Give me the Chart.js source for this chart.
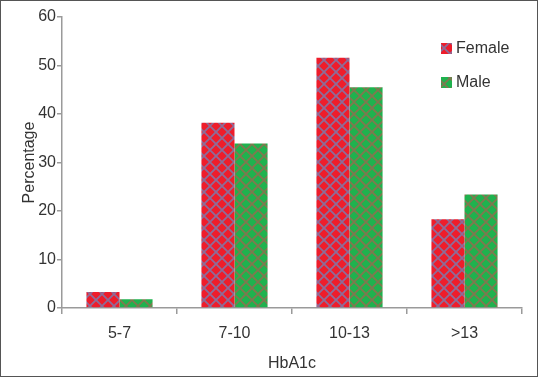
<!DOCTYPE html>
<html lang="en">
<head>
    <meta charset="UTF-8">
    <title>HbA1c by sex</title>
    <script src="https://cdn.jsdelivr.net/npm/chart.js@4.4.1/dist/chart.umd.min.js"></script>
    <style>
        body {
            margin: 0;
            background: #fff;
        }

        .frame {
            width: 538px;
            height: 377px;
            box-sizing: border-box;
            border: 1px solid #555;
            position: relative;
        }

        canvas {
            position: absolute;
            left: -1px;
            top: -1px;
        }
    </style>
</head>
<body>
    <div class="frame">
        <canvas id="barChart" width="538" height="377"></canvas>
    </div>
    <script>
        // values
        const categories = ["5-7", "7-10", "10-13", ">13"];
        const femaleValues = [3.3, 38.2, 51.6, 18.3];
        const maleValues = [1.8, 33.9, 45.5, 23.4];
        const seriesNames = ["Female", "Male"];
        const yMax = 60;
        const yStep = 10;

        // cross-hatch fill like the original
        function hatch(fill, line) {
            const n = 12;
            const c = document.createElement("canvas");
            c.width = n;
            c.height = n;
            const g = c.getContext("2d");
            g.fillStyle = fill;
            g.fillRect(0, 0, n, n);
            g.strokeStyle = line;
            g.lineWidth = 1.8;
            g.beginPath();
            g.moveTo(0, 0); g.lineTo(n, n);
            g.moveTo(n, 0); g.lineTo(0, n);
            g.stroke();
            return g.createPattern(c, "repeat");
        }

        const femaleFill = hatch("#ee1d2b", "#8e6c98");
        const maleFill = hatch("#1fb24e", "#80784f");

        const legendInside = {
            id: "legendInside",
            afterDraw(chart) {
                const ctx = chart.ctx;
                ctx.save();
                ctx.font = "16px 'Liberation Sans', Arial, sans-serif";
                ctx.textBaseline = "middle";
                chart.data.datasets.forEach((ds, i) => {
                    const y = 49 + i * 34;
                    ctx.fillStyle = ds.backgroundColor;
                    ctx.fillRect(441, y - 6, 11, 11);
                    ctx.fillStyle = "#333";
                    ctx.fillText(ds.label, 456, y);
                });
                ctx.restore();
            }
        };

        const axisGray = "#9a9a9a";
        const font = { family: "'Liberation Sans', Arial, sans-serif", size: 16 };

        new Chart(document.getElementById("barChart"), {
            type: "bar",
            data: {
                labels: categories,
                datasets: [
                    { label: seriesNames[0], data: femaleValues, backgroundColor: femaleFill },
                    { label: seriesNames[1], data: maleValues, backgroundColor: maleFill }
                ]
            },
            options: {
                responsive: false,
                animation: false,
                events: [],
                categoryPercentage: 0.575,
                barPercentage: 1.0,
                layout: { padding: { top: 17, right: 16, left: 16, bottom: 0 } },
                plugins: {
                    legend: { display: false },
                    tooltip: { enabled: false }
                },
                scales: {
                    x: {
                        grid: {
                            drawOnChartArea: false,
                            color: axisGray,
                            lineWidth: 1.5,
                            tickLength: 6
                        },
                        border: { color: axisGray, width: 1.5 },
                        ticks: { color: "#333", font: font, padding: 10 },
                        title: {
                            display: true,
                            text: "HbA1c",
                            color: "#333",
                            font: font,
                            padding: { top: 4 }
                        },
                        afterFit(scale) { scale.height = 69; }
                    },
                    y: {
                        min: 0,
                        max: yMax,
                        ticks: { stepSize: yStep, color: "#333", font: font, padding: 1 },
                        grid: {
                            drawOnChartArea: false,
                            color: axisGray,
                            lineWidth: 1.5,
                            tickLength: 5
                        },
                        border: { color: axisGray, width: 1.5 },
                        title: {
                            display: true,
                            text: "Percentage",
                            color: "#333",
                            font: font,
                            padding: { bottom: 0 }
                        },
                        afterFit(scale) { scale.width = 46; }
                    }
                }
            },
            plugins: [legendInside]
        });
    </script>
</body>
</html>
